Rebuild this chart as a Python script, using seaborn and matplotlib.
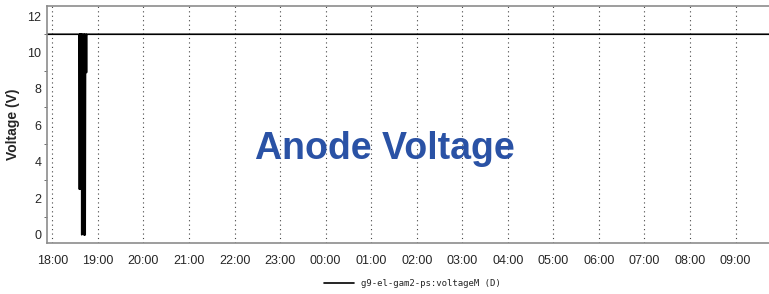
import pandas as pd
import numpy as np
import matplotlib
matplotlib.use("Agg")
import matplotlib.pyplot as plt
import matplotlib.dates as mdates
from matplotlib.ticker import MultipleLocator
import seaborn as sns

# === Data ===
BASE_DAY = "2024-01-01"
START_TIME = "17:53"
END_TIME = "09:44"          # next day
NORMAL_VOLTAGE = 11.0

# minutes after 18:00 where the supply dropped out, and the readings there
dip_minutes = [35.4, 35.7, 36.0, 36.3, 36.6, 36.9, 37.2, 37.5, 37.8, 38.1,
               38.4, 38.8, 39.2, 39.6, 40.0, 40.4, 41.2, 41.6, 42.0, 42.4,
               42.8, 43.3, 43.8, 44.6, 45.0, 45.4, 45.8]
dip_values = [11.0, 2.5, 11.0, 2.5, 11.0, 2.5, 11.0, 2.5, 11.0, 2.5,
              11.0, 0.0, 11.0, 1.9, 11.0, 1.9, 11.0, 0.0, 11.0, 0.0,
              11.0, 0.0, 11.0, 11.0, 8.9, 11.0, 11.0]

series_label = "g9-el-gam2-ps:voltageM (D)"
chart_title = "Anode Voltage"

# === Build the time series ===
t0 = pd.Timestamp(f"{BASE_DAY} 18:00")
start = pd.Timestamp(f"{BASE_DAY} {START_TIME}")
end = pd.Timestamp(f"{BASE_DAY} {END_TIME}") + pd.Timedelta(days=1)

times = [start] + [t0 + pd.Timedelta(minutes=m) for m in dip_minutes] + [end]
values = [NORMAL_VOLTAGE] + dip_values + [NORMAL_VOLTAGE]
df = pd.DataFrame({"time": times, "voltage": values, "series": series_label})

# === Plot ===
sns.set_style("white")
plt.rcParams["font.family"] = ["Liberation Sans", "DejaVu Sans"]

fig = plt.figure(figsize=(7.69, 2.94), dpi=100)
ax = fig.add_axes([47 / 769, 1 - 243 / 294, 1 - 47 / 769, (243 - 6) / 294])

sns.lineplot(data=df, x="time", y="voltage", hue="series", palette=["black"],
             linewidth=1.2, ax=ax, estimator=None, sort=False)

ax.set_xlim(start, end)
ax.set_ylim(-0.45, 12.55)

ax.xaxis.set_major_locator(mdates.HourLocator())
ax.xaxis.set_major_formatter(mdates.DateFormatter("%H:%M"))
ax.yaxis.set_major_locator(MultipleLocator(2))
ax.yaxis.set_minor_locator(MultipleLocator(1))

ax.grid(axis="x", which="major", linestyle=(0, (1, 3)), color="#444444", linewidth=0.8)
ax.grid(axis="y", visible=False)

for side in ["left", "top", "bottom"]:
    ax.spines[side].set_color("#8c8c8c")
    ax.spines[side].set_linewidth(1.2)
ax.spines["right"].set_visible(False)

ax.tick_params(axis="x", which="major", direction="inout", length=5, color="#555555",
               labelsize=9, pad=6)
ax.tick_params(axis="y", which="major", direction="out", length=3, color="#555555",
               labelsize=9, pad=1)
ax.tick_params(axis="y", which="minor", direction="out", length=2, color="#555555", left=True)

ax.set_xlabel("")
ax.set_ylabel("Voltage (V)", fontsize=10, fontweight="bold", labelpad=5)

ax.text(0.468, 0.395, chart_title, transform=ax.transAxes, ha="center", va="center",
        fontsize=27, fontweight="bold", color="#2a52a5")

ax.legend(loc="center", bbox_to_anchor=(412 / 769, 1 - 284 / 294),
          bbox_transform=fig.transFigure, frameon=False,
          handlelength=3.4, handletextpad=0.7, borderpad=0.1,
          prop={"family": "DejaVu Sans Mono", "size": 6.5})

fig.savefig("out.png", dpi=100, facecolor="white")
